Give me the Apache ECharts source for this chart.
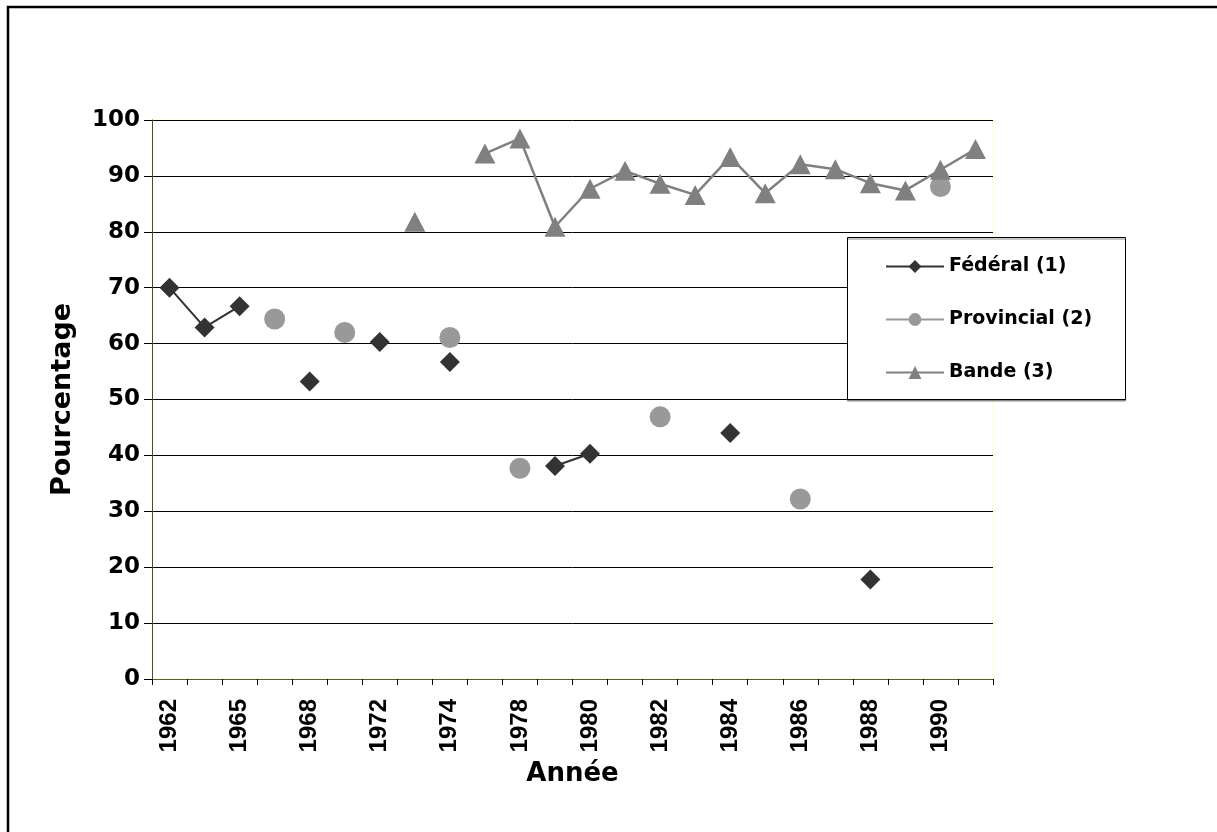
<!DOCTYPE html>
<html>
<head>
<meta charset="utf-8">
<script src="https://cdn.jsdelivr.net/npm/echarts@6/dist/echarts.min.js"></script>
<style>
html,body{margin:0;padding:0;background:#fff;}
#chart{width:1217px;height:832px;}
</style>
</head>
<body>
<div id="chart"></div>
<script>
var categories = ['1962','1963','1965','1967','1968','1970','1972','1973','1974','1976','1978','1979','1980','1981','1982','1983','1984','1985','1986','1987','1988','1989','1990','1991'];
var federal =    [70.0, 62.9, 66.7, null, 53.2, null, 60.3, null, 56.7, null, null, 38.1, 40.3, null, null, null, 44.0, null, null, null, 17.8, null, null, null];
var provincial = [null, null, null, 64.4, null, 62.0, null, null, 61.1, null, 37.7, null, null, null, 46.9, null, null, null, 32.2, null, null, null, 88.1, null];
var bande =      [null, null, null, null, null, null, null, 81.8, null, 94.0, 96.7, 80.9, 87.7, 90.9, 88.6, 86.6, 93.4, 86.9, 92.1, 91.2, 88.7, 87.4, 91.1, 94.8];
var seriesNames = ['Fédéral (1)', 'Provincial (2)', 'Bande (3)'];
var yTicks = {min: 0, max: 100, interval: 10};

var WIDE = '"DejaVu Sans", Verdana, sans-serif';
var ARIAL = '"Liberation Sans", Arial, sans-serif';
var chart = echarts.init(document.getElementById('chart'), null, {renderer: 'canvas'});
chart.setOption({
  backgroundColor: '#fff',
  animation: false,
  graphic: [
    {type: 'rect', z: 100, silent: true, shape: {x: 8, y: 7, width: 1400, height: 1000},
     style: {fill: 'none', stroke: '#000', lineWidth: 2.5}},
    {type: 'rect', z: 3, silent: true, shape: {x: 847.5, y: 237.5, width: 278, height: 162},
     style: {fill: '#fff', stroke: '#000', lineWidth: 1, shadowColor: '#8a8a8a', shadowOffsetX: 0, shadowOffsetY: 1.5, shadowBlur: 0}}
  ],
  grid: {left: 152, right: 224, top: 120, bottom: 153, show: true, borderColor: '#ffffc8', borderWidth: 1, backgroundColor: 'transparent'},
  legend: {
    orient: 'vertical', left: 880, top: 252, itemWidth: 58, itemHeight: 16, itemGap: 34, z: 5,
    textStyle: {fontFamily: WIDE, fontWeight: 'bold', fontSize: 19, color: '#000'},
    data: seriesNames
  },
  xAxis: {
    type: 'category', data: categories, boundaryGap: true,
    name: 'Année', nameLocation: 'middle', nameGap: 82,
    nameTextStyle: {fontFamily: WIDE, fontWeight: 'bold', fontSize: 26, color: '#000'},
    axisLine: {lineStyle: {color: '#5a5a38', width: 1}},
    axisTick: {show: true, interval: 0, length: 6, inside: false, lineStyle: {color: '#000'}},
    axisLabel: {interval: 1, rotate: 90, margin: 20, fontFamily: ARIAL, fontWeight: 'bold', fontSize: 24, color: '#000'},
    splitLine: {show: false}
  },
  yAxis: {
    type: 'value', min: yTicks.min, max: yTicks.max, interval: yTicks.interval,
    name: 'Pourcentage', nameLocation: 'middle', nameGap: 76, nameRotate: 90,
    nameTextStyle: {fontFamily: WIDE, fontWeight: 'bold', fontSize: 27, color: '#000'},
    axisLine: {show: true, lineStyle: {color: '#4a4a30', width: 1}},
    axisTick: {show: true, length: 8, lineStyle: {color: '#000'}},
    axisLabel: {margin: 12, fontFamily: WIDE, fontWeight: 'bold', fontSize: 23, color: '#000'},
    splitLine: {show: true, lineStyle: {color: '#000', width: 1}}
  },
  series: [
    {name: seriesNames[0], type: 'line', data: federal, connectNulls: false, z: 2,
     symbol: 'diamond', symbolSize: 20, showAllSymbol: true,
     itemStyle: {color: '#333333'}, lineStyle: {color: '#333333', width: 2}},
    {name: seriesNames[1], type: 'line', data: provincial, connectNulls: false, z: 2,
     symbol: 'circle', symbolSize: 21, showAllSymbol: true,
     itemStyle: {color: '#999999'}, lineStyle: {color: '#999999', width: 2}},
    {name: seriesNames[2], type: 'line', data: bande, connectNulls: false, z: 2,
     symbol: 'triangle', symbolSize: [21, 20], showAllSymbol: true,
     itemStyle: {color: '#808080'}, lineStyle: {color: '#808080', width: 2.5}}
  ]
});
</script>
</body>
</html>
